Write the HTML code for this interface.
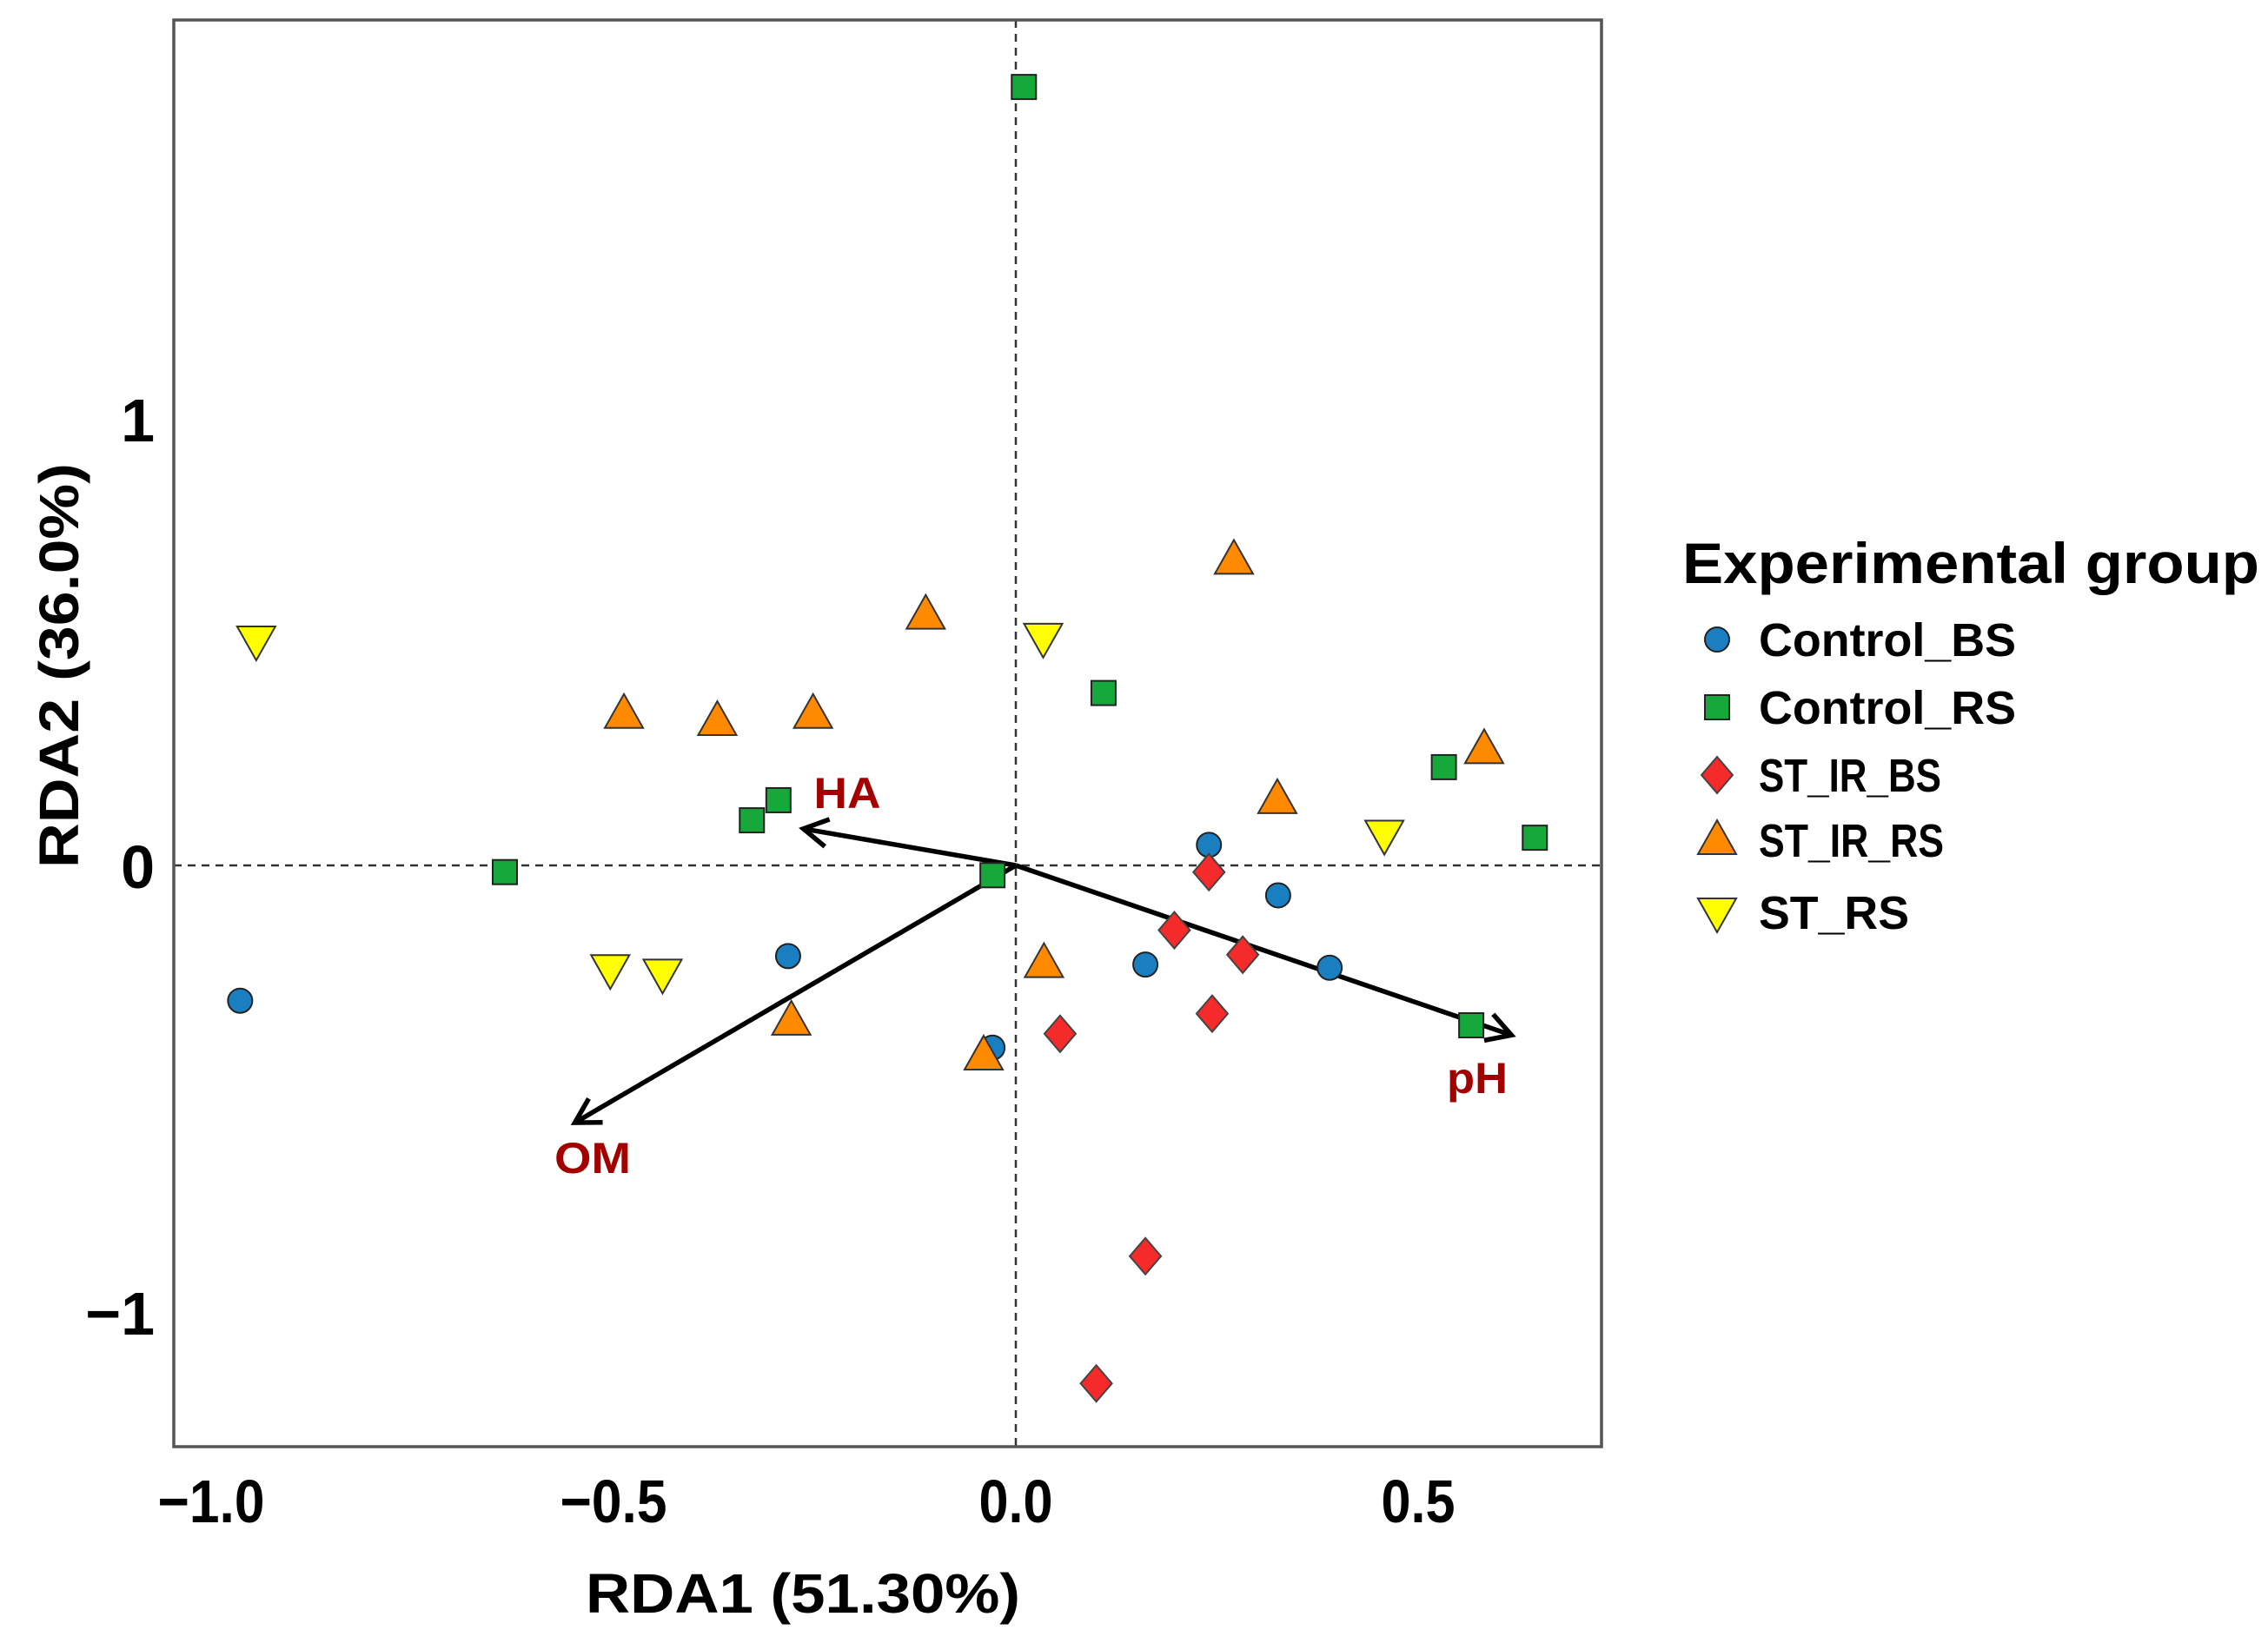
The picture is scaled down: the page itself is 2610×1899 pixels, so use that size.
<!DOCTYPE html>
<html><head><meta charset="utf-8"><style>
html,body{margin:0;padding:0;background:#fff;}
svg{display:block;}
text{font-family:"Liberation Sans",Arial,sans-serif;font-weight:bold;}
</style></head><body>
<svg id="chart" width="2610" height="1899" viewBox="0 0 2610 1899" xmlns="http://www.w3.org/2000/svg">
<g id="plot"></g>
<g id="legend"></g>
</svg>
<script>
// Data (RDA site scores)
const controlBS_x = [-0.964, -0.283, -0.029, 0.240, 0.326, 0.161, 0.390];
const controlBS_y = [-0.303, -0.203, -0.408, 0.046, -0.067, -0.222, -0.229];
const controlRS_x = [0.010, 0.109, -0.635, -0.328, -0.295, -0.029, 0.532, 0.645, 0.566];
const controlRS_y = [1.743, 0.386, -0.015, 0.101, 0.146, -0.022, 0.220, 0.062, -0.358];
const stirBS_x = [0.240, 0.197, 0.282, 0.055, 0.244, 0.161, 0.100];
const stirBS_y = [-0.015, -0.145, -0.200, -0.377, -0.332, -0.875, -1.160];
const stirRS_x = [0.271, -0.112, -0.487, -0.371, -0.252, 0.582, 0.325, 0.035, -0.279, -0.040];
const stirRS_y = [0.684, 0.561, 0.339, 0.323, 0.339, 0.260, 0.148, -0.219, -0.348, -0.426];
const stRS_x = [-0.944, 0.034, 0.458, -0.504, -0.439];
const stRS_y = [0.504, 0.510, 0.069, -0.232, -0.242];
const envNames = ["HA", "OM", "pH"];
const envX = [-0.264, -0.548, 0.616];
const envY = [0.082, -0.576, -0.380];
const xTicks = [-1.0, -0.5, 0.0, 0.5];
const xTickLabels = ["\u22121.0", "\u22120.5", "0.0", "0.5"];
const yTicks = [1, 0, -1];
const yTickLabels = ["1", "0", "\u22121"];
const groupNames = ["Control_BS", "Control_RS", "ST_IR_BS", "ST_IR_RS", "ST_RS"];

const NS = "http://www.w3.org/2000/svg";
const L = 200, R = 1843, T = 23, B = 1665;
const X0 = 1169, XU = 926, Y0 = 996, YU = 514;
function sx(v){ return X0 + v * XU; }
function sy(v){ return Y0 - v * YU; }
function mk(tag, attrs, parent){
  const e = document.createElementNS(NS, tag);
  for (const k in attrs) e.setAttribute(k, attrs[k]);
  parent.appendChild(e);
  return e;
}
const plot = document.getElementById('plot');
const legend = document.getElementById('legend');

let zl = mk('line', {x1:L, x2:R, y1:sy(0), y2:sy(0), stroke:'#333', 'stroke-width':2.5, 'stroke-dasharray':'9,7'}, plot);


zl = mk('line', {x1:sx(0), x2:sx(0), y1:T, y2:B, stroke:'#333', 'stroke-width':2.5, 'stroke-dasharray':'9,7'}, plot);



xTicks.forEach((v, i) => {
  const t = mk('text', {x:sx(v), y:1752, 'text-anchor':'middle', 'font-size':70, fill:'#000', textLength: xTickLabels[i].length > 3 ? 123 : 85, lengthAdjust:'spacingAndGlyphs'}, plot);
  t.textContent = xTickLabels[i];
  
  
});
yTicks.forEach((v, i) => {
  const t = mk('text', {x:178, y:sy(v) + 26, 'text-anchor':'end', 'font-size':70, fill:'#000'}, plot);
  t.textContent = yTickLabels[i];
  
  
});

let at = mk('text', {x:924, y:1856, 'text-anchor':'middle', 'font-size':64, fill:'#000', textLength:500, lengthAdjust:'spacingAndGlyphs'}, plot);
at.textContent = 'RDA1 (51.30%)';


at = mk('text', {x:0, y:0, 'text-anchor':'middle', 'font-size':64, fill:'#000', textLength:466, lengthAdjust:'spacingAndGlyphs', transform:'translate(90,766) rotate(-90)'}, plot);
at.textContent = 'RDA2 (36.0%)';



const arrowG = mk('g', {}, plot);


const labelPos = [[975, 930], [682, 1350], [1700, 1258]];
const labelW = [77, 88, 70];
envNames.forEach((n, i) => {
  const x1 = sx(0), y1 = sy(0), x2 = sx(envX[i]), y2 = sy(envY[i]);
  const ln = mk('line', {x1:x1, y1:y1, x2:x2, y2:y2, stroke:'#000', 'stroke-width':5.5}, arrowG);
  
  
  const ang = Math.atan2(y2 - y1, x2 - x1), h = 32, a = 0.52;
  const hd = mk('polyline', {points:[x2 - h*Math.cos(ang - a), y2 - h*Math.sin(ang - a), x2, y2, x2 - h*Math.cos(ang + a), y2 - h*Math.sin(ang + a)].join(','), fill:'none', stroke:'#000', 'stroke-width':5.5}, arrowG);
  
  
  const t = mk('text', {x:labelPos[i][0], y:labelPos[i][1], 'text-anchor':'middle', 'font-size':50, fill:'#a30000', textLength:labelW[i], lengthAdjust:'spacingAndGlyphs'}, arrowG);
  t.textContent = n;
  
  
});

function marker(shape, cx, cy, parent){
  let e;
  if (shape === 'circle') e = mk('circle', {cx:cx, cy:cy, r:14, fill:'#1a7fc0', stroke:'#222', 'stroke-width':2}, parent);
  else if (shape === 'square') e = mk('rect', {x:cx-14, y:cy-14, width:28, height:28, fill:'#16a83a', stroke:'#222', 'stroke-width':2}, parent);
  else if (shape === 'diamond') e = mk('polygon', {points:[cx, cy-21, cx+18, cy, cx, cy+21, cx-18, cy].join(','), fill:'#f52a2a', stroke:'#444', 'stroke-width':2}, parent);
  else if (shape === 'up') e = mk('polygon', {points:[cx, cy-23, cx+22, cy+16, cx-22, cy+16].join(','), fill:'#ff8a00', stroke:'#333', 'stroke-width':2}, parent);
  else e = mk('polygon', {points:[cx-22, cy-16, cx+22, cy-16, cx, cy+23].join(','), fill:'#ffff00', stroke:'#333', 'stroke-width':2}, parent);
  return e;
}
const series = [
  [controlBS_x, controlBS_y, 'circle', 'control-bs'],
  [controlRS_x, controlRS_y, 'square', 'control-rs'],
  [stirBS_x, stirBS_y, 'diamond', 'st-ir-bs'],
  [stirRS_x, stirRS_y, 'up', 'st-ir-rs'],
  [stRS_x, stRS_y, 'down', 'st-rs']
];
series.forEach(s => {
  const g = mk('g', {}, plot);
  
  
  s[0].forEach((v, i) => {
    const m = marker(s[2], sx(v), sy(s[1][i]), g);
    
    
  });
});

const fr = mk('rect', {x:L, y:T, width:R-L, height:B-T, fill:'none', stroke:'#555', 'stroke-width':3.5}, plot);



const lt = mk('text', {x:1936, y:671, 'font-size':66, fill:'#000', textLength:664, lengthAdjust:'spacingAndGlyphs'}, legend);
lt.textContent = 'Experimental group';


const legY = [736, 814, 892, 967, 1050];
const legW = [296, 296, 210, 213, 173];
const shapes = ['circle', 'square', 'diamond', 'up', 'down'];
groupNames.forEach((n, i) => {
  const g = mk('g', {}, legend);
  
  
  const m = marker(shapes[i], 1976, legY[i], g);
  
  
  const t = mk('text', {x:2024, y:legY[i] + 19, 'font-size':54, fill:'#000', textLength:legW[i], lengthAdjust:'spacingAndGlyphs'}, g);
  t.textContent = n;
  
  
});
</script>
</body></html>
